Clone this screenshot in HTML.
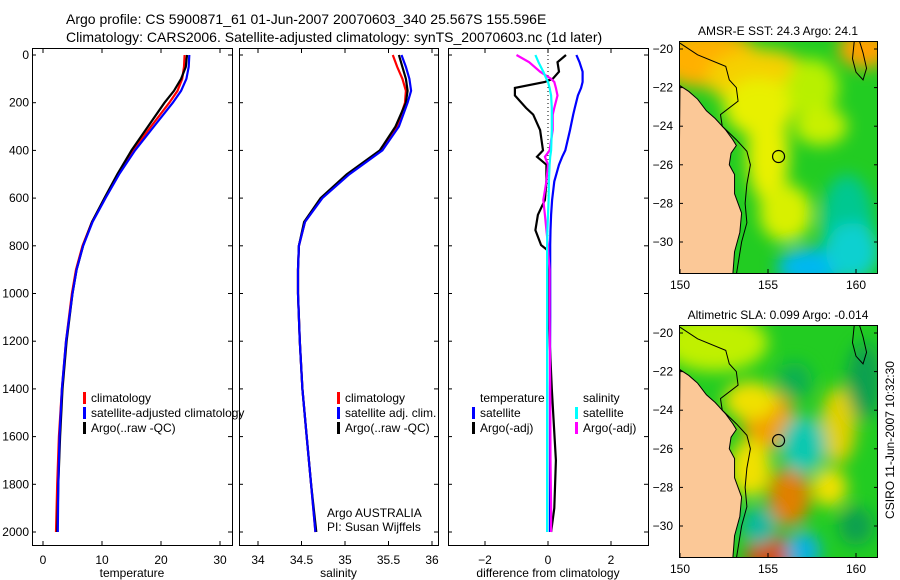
<!DOCTYPE html>
<html><head><meta charset="utf-8"><style>
body{margin:0;background:#fff}
svg{display:block;font-family:"Liberation Sans",sans-serif}
</style></head><body>
<svg id="c" width="900" height="580" viewBox="0 0 900 580">
<defs>
<filter id="bl" x="-50%" y="-50%" width="200%" height="200%"><feGaussianBlur stdDeviation="8"/></filter>
<clipPath id="cm1"><rect x="679" y="41" width="199" height="232"/></clipPath>
<clipPath id="cm2"><rect x="679" y="325" width="199" height="232"/></clipPath>
</defs>
<g fill="#000" font-size="14">
<text x="66" y="24">Argo profile: CS 5900871_61 01-Jun-2007 20070603_340 25.567S 155.596E</text>
<text x="66" y="42">Climatology: CARS2006. Satellite-adjusted climatology: synTS_20070603.nc (1d later)</text>
</g>
<g id="panels"></g>
<g id="maps"></g>
<text transform="translate(894,440) rotate(-90)" text-anchor="middle" font-size="12">CSIRO 11-Jun-2007 10:32:30</text>
</svg>
<script>
const NS="http://www.w3.org/2000/svg";
const svg=document.getElementById('c');
const depthTicks=[0,200,400,600,800,1000,1200,1400,1600,1800,2000];
const tempTicks=[0,10,20,30];
const salTicks=[34,34.5,35,35.5,36];
const diffTicks=[-2,0,2];
// temperature profile
const tDepth=[0,50,100,150,200,300,400,500,600,700,800,900,1000,1200,1400,1600,1800,2000];
const tArgo=[24.4,24.2,23.4,22.2,20.6,17.8,15.0,12.6,10.4,8.3,6.8,5.7,5.0,4.0,3.3,2.9,2.6,2.4];
const tClim=[24.0,23.9,23.6,22.8,21.4,18.3,15.3,12.7,10.5,8.3,6.7,5.6,4.9,3.9,3.2,2.7,2.4,2.2];
const tSat=[24.8,24.7,24.3,23.4,22.0,18.8,15.6,12.9,10.6,8.4,6.8,5.7,5.0,3.9,3.2,2.8,2.6,2.5];
// salinity profile
const sArgo=[35.62,35.66,35.70,35.72,35.70,35.58,35.40,35.02,34.72,34.53,34.47,34.46,34.46,34.48,34.51,34.56,34.61,34.67];
const sClim=[35.55,35.60,35.66,35.70,35.69,35.60,35.41,35.04,34.73,34.54,34.47,34.46,34.46,34.48,34.51,34.56,34.61,34.66];
const sSat=[35.65,35.70,35.74,35.76,35.72,35.62,35.43,35.05,34.74,34.54,34.47,34.46,34.46,34.48,34.51,34.56,34.61,34.66];
// differences
const dDepth=[0,30,70,100,113,138,170,222,250,315,400,427,460,530,608,670,734,797,818,900,1100,1400,1700,1900,2000];
const dTargo=[0.57,0.3,0.35,0.15,-0.1,-1.05,-1.05,-0.7,-0.47,-0.25,-0.16,-0.35,-0.05,-0.05,-0.1,-0.32,-0.4,-0.22,-0.02,0.0,0.02,0.12,0.25,0.2,0.1];
const dTsat=[0.9,1.0,1.1,1.1,1.1,1.05,0.95,0.85,0.8,0.7,0.55,0.45,0.35,0.2,0.13,0.1,0.08,0.07,0.07,0.07,0.07,0.06,0.06,0.06,0.06];
const dSargo=[-1.0,-0.6,-0.25,0.1,0.2,0.25,0.3,0.2,0.15,0.15,0.05,-0.1,0.0,-0.05,-0.15,-0.1,-0.05,0.0,0.0,0.05,0.05,0.07,0.08,0.1,0.1];
const dSsat=[-0.4,-0.3,-0.15,-0.05,0.0,0.05,0.1,0.12,0.12,0.12,0.1,0.07,0.05,0.03,0.02,0.0,-0.02,-0.03,-0.03,-0.03,-0.03,-0.03,-0.03,-0.03,-0.03];

function el(tag,attrs,parent){const e=document.createElementNS(NS,tag);for(const k in attrs)e.setAttribute(k,attrs[k]);(parent||svg).appendChild(e);return e;}
function txt(s,x,y,attrs,parent){const e=el('text',Object.assign({x:x,y:y},attrs||{}),parent);e.textContent=s;return e;}
const yD=d=>55+d*0.2385;
const P=document.getElementById('panels');

function panel(name,x0,x1,ticks,xf,label,lblFmt){
 const g=el('g',{},P);
 
 
 const fr=el('rect',{x:x0+0.5,y:48.5,width:x1-x0,height:497,fill:'none',stroke:'#000','stroke-width':1},g);
 
 
 ticks.forEach(t=>{const x=xf(t);
  el('line',{x1:x,x2:x,y1:545,y2:541,stroke:'#000'},g);el('line',{x1:x,x2:x,y1:49,y2:53,stroke:'#000'},g);
  const tl=txt(lblFmt(t),x,564,{'text-anchor':'middle','font-size':12},g);
  
  });
 depthTicks.forEach(d=>{const y=yD(d);el('line',{x1:x0,x2:x0+4,y1:y,y2:y,stroke:'#000'},g);el('line',{x1:x1,x2:x1-4,y1:y,y2:y,stroke:'#000'},g);});
 const al=txt(label,(x0+x1)/2,577,{'text-anchor':'middle','font-size':12},g);
 
 
 return g;
}
function line(g,xs,ds,xf,color,w,name){
 const pts=xs.map((v,i)=>xf(v).toFixed(1)+','+yD(ds[i]).toFixed(1)).join(' ');
 const p=el('polyline',{points:pts,fill:'none',stroke:color,'stroke-width':w},g);
 
 
}
function legend(g,items,x,y){items.forEach((it,i)=>{el('rect',{x:x,y:y+i*15-10,width:3,height:12,fill:it[1]},g);
 const t=txt(it[0],x+8,y+i*15,{'font-size':12},g);
 
 });}

depthTicks.forEach(d=>{const t=txt(String(d),29,yD(d)+4,{'text-anchor':'end','font-size':12},P);
 
 });

const xT=v=>43+v*5.9;
const g1=panel('temperature-panel',32,232,tempTicks,xT,'temperature',String);
line(g1,tClim,tDepth,xT,'#f00',2.2,'temp-climatology-line');
line(g1,tArgo,tDepth,xT,'#000',2.2,'temp-argo-line');
line(g1,tSat,tDepth,xT,'#00f',2.2,'temp-satellite-line');
legend(g1,[['climatology','#f00'],['satellite-adjusted climatology','#00f'],['Argo(..raw -QC)','#000']],83,402);

const xS=v=>258+(v-34)*87;
const g2=panel('salinity-panel',239,438,salTicks,xS,'salinity',String);
line(g2,sClim,tDepth,xS,'#f00',2.2,'sal-climatology-line');
line(g2,sArgo,tDepth,xS,'#000',2.2,'sal-argo-line');
line(g2,sSat,tDepth,xS,'#00f',2.2,'sal-satellite-line');
legend(g2,[['climatology','#f00'],['satellite adj. clim.','#00f'],['Argo(..raw -QC)','#000']],337,402);
txt('Argo AUSTRALIA',327,517,{'font-size':12},g2);
txt('PI: Susan Wijffels',327,531,{'font-size':12},g2);

const xDf=v=>548+v*31.5;
const g3=panel('difference-panel',448,648,diffTicks,xDf,'difference from climatology',v=>v<0?'−'+(-v):String(v));
el('line',{x1:548,x2:548,y1:55,y2:250,stroke:'#000','stroke-dasharray':'1,3'},g3);
line(g3,dTargo,dDepth,xDf,'#000',2.2,'temp-argo-diff-line');
line(g3,dTsat,dDepth,xDf,'#00f',2.2,'temp-satellite-diff-line');
line(g3,dSargo,dDepth,xDf,'#f0f',2.2,'sal-argo-diff-line');
line(g3,dSsat,dDepth,xDf,'#0ff',2.2,'sal-satellite-diff-line');
txt('temperature',480,402,{'font-size':12},g3);
legend(g3,[['satellite','#00f'],['Argo(-adj)','#000']],472,417);
txt('salinity',583,402,{'font-size':12},g3);
legend(g3,[['satellite','#0ff'],['Argo(-adj)','#f0f']],575,417);

const M=document.getElementById('maps');
const coast=[[150,-21.9],[150.5,-22.2],[151,-22.6],[151.5,-23.2],[152,-23.6],[152.6,-24.2],[153,-24.7],[153.2,-25.0],[152.9,-25.4],[152.8,-26],[153.1,-26.5],[153.1,-27.5],[153.3,-28],[153.5,-28.5],[153.4,-29.5],[153.1,-30.5],[153,-31.7],[149.9,-31.7]];
const contour=[[150,-19.7],[151,-20.3],[152.6,-20.9],[152.8,-21.6],[153.2,-22],[153.3,-22.7],[152.3,-23.4],[152.4,-24],[153.2,-24.7],[153.8,-25.3],[154,-26],[153.8,-27],[153.7,-28],[153.8,-29],[153.5,-30],[153.2,-31.7]];
function map(name,top,title,blobs,base){
 const g=el('g',{},M);
 
 
 const lx=v=>680+(v-150)*17.6, ly=v=>top+8+(-20-v)*19.3;
 const cg=el('g',{'clip-path':'url(#'+(top<100?'cm1':'cm2')+')'},g);
 el('rect',{x:679,y:top,width:199,height:232,fill:base},cg);
 const bg=el('g',{filter:'url(#bl)'},cg);
 blobs.forEach(b=>el('ellipse',{cx:lx(b[0]),cy:ly(b[1]),rx:b[2]*17.6,ry:b[3]*19.3,fill:b[4]},bg));
 el('polygon',{points:coast.map(p=>lx(p[0])+','+ly(p[1])).join(' '),fill:'#fbc897',stroke:'#000','stroke-width':1},cg);
 el('polyline',{points:contour.map(p=>lx(p[0])+','+ly(p[1])).join(' '),fill:'none',stroke:'#000','stroke-width':1},cg);
 el('polyline',{points:[[159.9,-19.6],[159.8,-20.5],[160,-21.2],[160.4,-21.6],[160.6,-21],[160.4,-20.2],[160.2,-19.6]].map(p=>lx(p[0])+','+ly(p[1])).join(' '),fill:'none',stroke:'#000','stroke-width':1},cg);
 el('circle',{cx:lx(155.6),cy:ly(-25.57),r:6,fill:'none',stroke:'#000','stroke-width':1.2},g);
 el('rect',{x:679.5,y:top+0.5,width:198,height:232,fill:'none',stroke:'#000'},g);
 [150,155,160].forEach(v=>{el('line',{x1:lx(v),x2:lx(v),y1:top+232,y2:top+228,stroke:'#000'},g);
  const t=txt(String(v),lx(v),top+248,{'text-anchor':'middle','font-size':12},g);
  
  });
 [-20,-22,-24,-26,-28,-30].forEach(v=>{el('line',{x1:679,x2:683,y1:ly(v),y2:ly(v),stroke:'#000'},g);el('line',{x1:878,x2:874,y1:ly(v),y2:ly(v),stroke:'#000'},g);
  const t=txt('−'+(-v),673,ly(v)+4,{'text-anchor':'end','font-size':12},g);
  
  });
 const tt=txt(title,778,top-6,{'text-anchor':'middle','font-size':12},g);
 
 
}
map('sst-map',41,'AMSR-E SST: 24.3 Argo: 24.1',[
 [151.5,-20.5,3,1.5,'#ffb000'],[154.5,-21.5,3,1.5,'#f5d000'],[160.5,-20,1.5,1,'#ffa000'],
 [154.5,-23,2,1.5,'#e8f000'],[155,-25.5,1.2,2.5,'#e8f000'],[156,-28.5,1.5,1.5,'#d8f000'],[157.5,-22,1.5,1.5,'#b8f000'],
 [158,-24,1.5,1,'#c8f000'],[159.5,-29,1.5,2.5,'#00c890'],[157.5,-31.3,2,1,'#00b8f0'],[159.8,-30.5,1.5,1.5,'#10d0d0']],'#22cc22');
map('sla-map',325,'Altimetric SLA: 0.099 Argo: -0.014',[
 [152,-20.5,3,1.5,'#c0f000'],[155,-24.5,1.5,1.5,'#f0a000'],[156.2,-28.5,1.2,1.5,'#e08000'],[155.2,-31.5,1.5,1,'#d05000'],
 [154,-23.5,1.5,1,'#f0e000'],[159,-24.8,1,2,'#e0d000'],[154,-27,1.2,1.5,'#f0e000'],[158.5,-28,1,1,'#f0e000'],
 [157,-25.8,1.3,1.5,'#10c8b0'],[154.5,-30,1,1,'#10b8a0'],[157,-31.3,1,1,'#10b0e0'],[156.5,-22.5,1,1,'#10b050'],[160,-30,1,1,'#10a050'],[160.5,-22.5,1,2,'#10a050']],'#22cc22');
</script>
</body></html>
